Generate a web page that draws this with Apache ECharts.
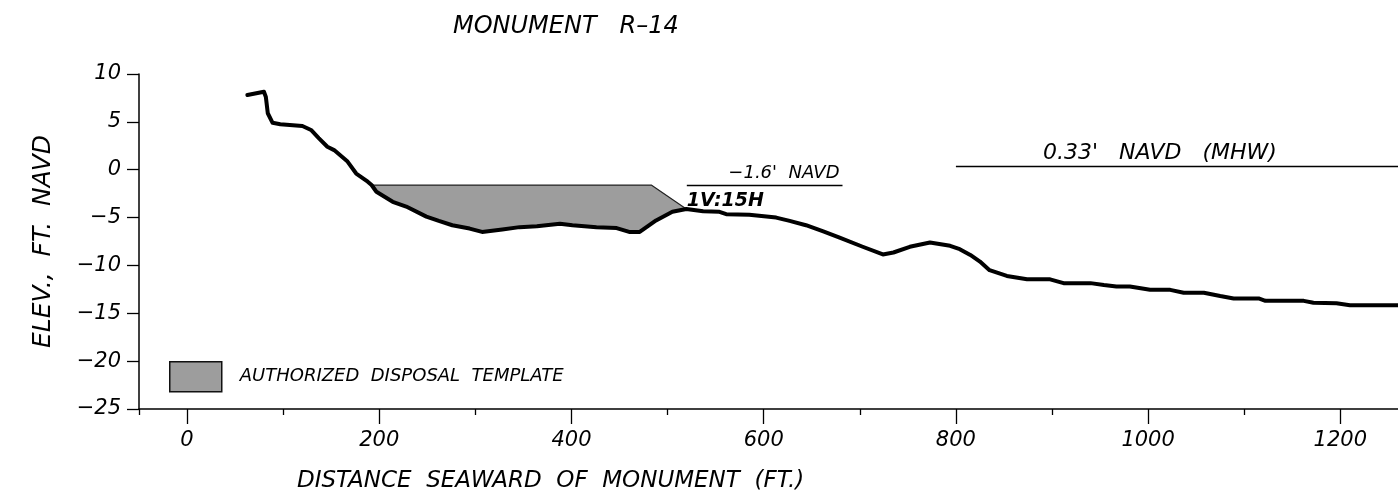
<!DOCTYPE html>
<html>
<head>
<meta charset="utf-8">
<title>Monument R-14 profile</title>
<script src="https://cdn.jsdelivr.net/npm/echarts@6/dist/echarts.min.js"></script>
<style>
  html, body { margin: 0; padding: 0; background: #fff; }
  #chart { width: 1398px; height: 504px; }
</style>
</head>
<body>
<div id="chart"></div>
<script>
// Beach profile surveyed seaward of the monument (distance in ft, elevation in ft NAVD)
const profileDist = [
  62.8, 80, 82, 84, 89, 97, 120, 129, 137, 146, 153, 167, 176, 188, 192, 197,
  214, 228, 249, 262, 276, 294, 307, 328, 346, 364, 388, 401, 426, 447, 460, 471,
  488, 505, 519.5, 537, 554, 561, 585, 613, 627, 644, 662, 679, 703, 724, 735,
  752, 773, 794, 804, 815, 825, 835, 853, 874, 898, 912, 940, 954, 967, 981,
  1002, 1023, 1037, 1058, 1075, 1089, 1115, 1122, 1162, 1172, 1196, 1210, 1260
];
const profileElev = [
  7.8, 8.15, 7.6, 5.9, 4.9, 4.75, 4.57, 4.15, 3.3, 2.4, 2.05, 0.85, -0.4, -1.25, -1.6, -2.3,
  -3.35, -3.85, -4.9, -5.35, -5.8, -6.15, -6.5, -6.25, -6.0, -5.9, -5.65, -5.8, -6.0, -6.1, -6.5, -6.5,
  -5.3, -4.4, -4.1, -4.35, -4.4, -4.65, -4.7, -5.0, -5.35, -5.8, -6.45, -7.1, -8.05, -8.85, -8.65,
  -8.05, -7.6, -7.95, -8.3, -8.9, -9.6, -10.5, -11.1, -11.45, -11.45, -11.85, -11.85, -12.05, -12.2, -12.2,
  -12.55, -12.55, -12.85, -12.85, -13.2, -13.45, -13.45, -13.7, -13.7, -13.9, -13.95, -14.15, -14.15
];

// Authorized disposal template: flat top at -1.6 ft, then a 1V:15H side slope to the profile
const templateDist = [192, 483, 519.5];
const templateElev = [-1.6, -1.6, -4.1];

// Reference levels
const templateLevelDist = [520, 682];
const templateLevel = -1.6;
const mhwDist = [800, 1260];
const mhwLevel = 0.33;

// Axis ticks
const xMajorTicks = [0, 200, 400, 600, 800, 1000, 1200];
const xMinorTicks = [-50, 100, 300, 500, 700, 900, 1100];

const FONT = 'DejaVu Sans';
const textBase = { fontFamily: FONT, fontStyle: 'italic', fontWeight: 'normal', color: '#000' };

const profileData = profileDist.map((d, i) => [d, profileElev[i]]);
const templateData = templateDist.map((d, i) => [d, templateElev[i]]);

// Polygon of the fill area: template top edge, then the profile back to the start
const fillStart = templateDist[0];
const fillEnd = templateDist[templateDist.length - 1];
const fillPolygon = templateData.concat(
  profileData.filter(p => p[0] >= fillStart && p[0] <= fillEnd).reverse()
);

const chart = echarts.init(document.getElementById('chart'), null, { renderer: 'canvas' });

chart.setOption({
  animation: false,
  backgroundColor: '#fff',
  title: {
    text: 'MONUMENT   R\u201314',
    left: 453,
    top: 15,
    padding: 0,
    textStyle: Object.assign({}, textBase, { fontSize: 24 })
  },
  legend: {
    left: 169,
    top: 361,
    padding: 0,
    itemWidth: 52,
    itemHeight: 30,
    icon: 'rect',
    selectedMode: false,
    data: ['AUTHORIZED  DISPOSAL  TEMPLATE'],
    itemStyle: { borderColor: '#111', borderWidth: 1.5 },
    textStyle: Object.assign({}, textBase, { fontSize: 18, padding: [0, 0, 0, 13] })
  },
  grid: { left: 139, right: 0, top: 74, bottom: 95, containLabel: false },
  xAxis: [
    {
      type: 'value',
      min: -50,
      max: 1260,
      splitLine: { show: false },
      axisLine: { show: true, onZero: false, lineStyle: { color: '#000', width: 1.5 } },
      axisTick: { show: true, customValues: xMajorTicks, length: 15, lineStyle: { color: '#000', width: 1.3 } },
      axisLabel: Object.assign({ customValues: xMajorTicks, margin: 21, fontSize: 21,
        formatter: v => String(v) }, textBase)
    },
    {
      type: 'value',
      position: 'bottom',
      min: -50,
      max: 1260,
      splitLine: { show: false },
      axisLine: { show: false, onZero: false },
      axisTick: { show: true, customValues: xMinorTicks, length: 6, lineStyle: { color: '#000', width: 1.3 } },
      axisLabel: { show: false }
    }
  ],
  yAxis: {
    type: 'value',
    min: -25,
    max: 10,
    interval: 5,
    name: 'ELEV.,  FT.  NAVD',
    nameLocation: 'middle',
    nameGap: 83,
    nameTextStyle: Object.assign({}, textBase, { fontSize: 25 }),
    splitLine: { show: false },
    axisLine: { show: true, onZero: false, lineStyle: { color: '#000', width: 1.5 } },
    axisTick: { show: true, length: 12, lineStyle: { color: '#000', width: 1.3 } },
    axisLabel: Object.assign({
      margin: 18,
      fontSize: 21,
      formatter: v => String(v).replace('-', '\u2212')
    }, textBase)
  },
  graphic: [
    {
      type: 'text',
      left: 297,
      top: 470,
      style: { text: 'DISTANCE  SEAWARD  OF  MONUMENT  (FT.)', font: 'italic 23px "DejaVu Sans"', fill: '#000' }
    }
  ],
  series: [
    {
      name: 'AUTHORIZED  DISPOSAL  TEMPLATE',
      type: 'custom',
      coordinateSystem: 'cartesian2d',
      itemStyle: { color: '#9d9d9d' },
      data: [0],
      renderItem: function (params, api) {
        return {
          type: 'polygon',
          shape: { points: fillPolygon.map(p => api.coord(p)) },
          style: { fill: '#9d9d9d', stroke: null }
        };
      },
      z: 1
    },
    {
      name: 'template outline',
      type: 'line',
      data: templateData,
      showSymbol: false,
      symbol: 'none',
      lineStyle: { color: '#222', width: 1.2 },
      z: 2
    },
    {
      name: 'profile',
      type: 'line',
      data: profileData,
      showSymbol: false,
      symbol: 'none',
      lineStyle: { color: '#000', width: 4, join: 'round', cap: 'round' },
      z: 3
    },
    {
      name: 'reference levels',
      type: 'line',
      data: [],
      z: 4,
      markLine: {
        silent: true,
        symbol: ['none', 'none'],
        lineStyle: { color: '#000', width: 1.3, type: 'solid' },
        data: [
          [
            { coord: [templateLevelDist[0], templateLevel] },
            { coord: [templateLevelDist[1], templateLevel],
              label: Object.assign({ show: true, position: 'insideEndTop', distance: 3, fontSize: 18,
                formatter: '\u2212' + Math.abs(templateLevel) + "'  NAVD" }, textBase) }
          ],
          [
            { coord: [mhwDist[0], mhwLevel] },
            { coord: [mhwDist[1], mhwLevel],
              label: Object.assign({ show: true, position: 'insideMiddleTop', distance: 2, fontSize: 22,
                offset: [-17, 0],
                formatter: mhwLevel.toFixed(2) + "'   NAVD   (MHW)" }, textBase) }
          ]
        ]
      },
      markPoint: {
        silent: true,
        symbol: 'rect',
        symbolSize: 0,
        data: [
          {
            coord: [templateLevelDist[0], templateLevel],
            label: Object.assign({ show: true, position: 'inside', align: 'left', verticalAlign: 'top',
              offset: [0, 7], fontSize: 19, formatter: '1V:15H' }, textBase, { fontWeight: 'bold' })
          }
        ]
      }
    }
  ]
});
</script>
</body>
</html>
